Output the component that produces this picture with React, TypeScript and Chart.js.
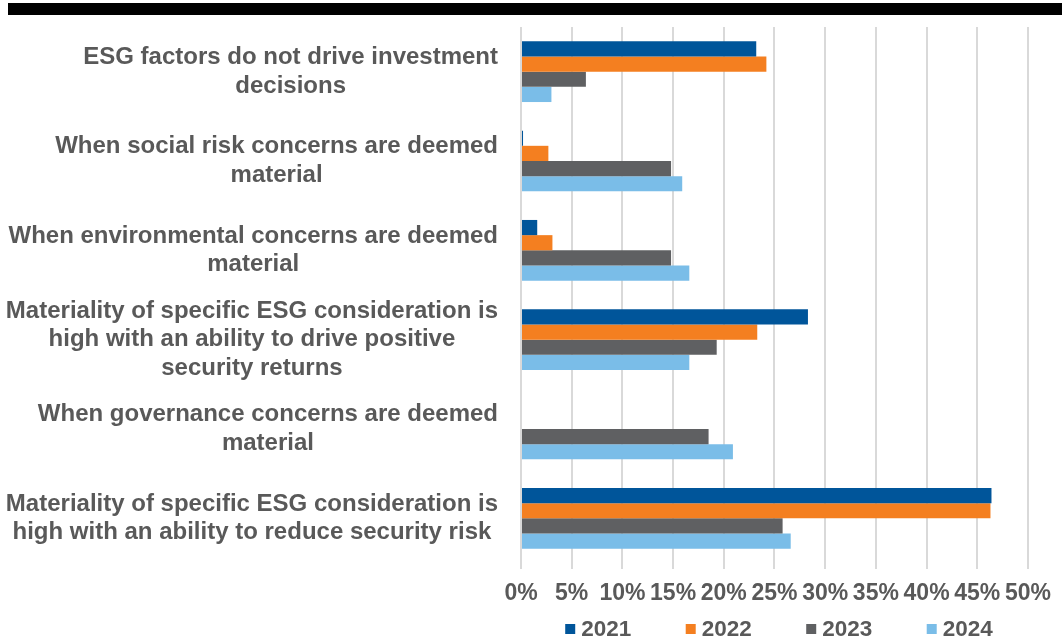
import React, { useEffect, useRef } from "react";
import { Chart, registerables } from "chart.js";

Chart.register(...registerables);

const categories: string[][] = [
  ["ESG factors do not drive investment", "decisions"],
  ["When social risk concerns are deemed", "material"],
  ["When environmental concerns are deemed", "material"],
  ["Materiality of specific ESG consideration is", "high with an ability to drive positive", "security returns"],
  ["When governance concerns are deemed", "material"],
  ["Materiality of specific ESG consideration is", "high with an ability to reduce security risk"],
];

const seriesNames = ["2021", "2022", "2023", "2024"];
const values2021: (number | null)[] = [23.2, 0.2, 1.6, 28.3, null, 46.4];
const values2022: (number | null)[] = [24.2, 2.7, 3.1, 23.3, null, 46.3];
const values2023: (number | null)[] = [6.4, 14.8, 14.8, 19.3, 18.5, 25.8];
const values2024: (number | null)[] = [3.0, 15.9, 16.6, 16.6, 20.9, 26.6];
const xTickMax = 50;
const xTickStep = 5;

const colors = ["#00559A", "#F47F20", "#5F6062", "#7ABDE8"];
const FONT = "'Liberation Sans', Arial, sans-serif";
const TEXT = "#595959";

const yLabelPlugin = {
  id: "yLabelPlugin",
  afterDraw(chart: any) {
    const ctx = chart.ctx;
    const ys = chart.scales.y;
    const labels = chart.data.labels as string[][];
    ctx.save();
    ctx.font = `bold 24px ${FONT}`;
    ctx.fillStyle = TEXT;
    ctx.textAlign = "center";
    ctx.textBaseline = "middle";
    const right = 498;
    const lh = 28.5;
    labels.forEach((lines, i) => {
      const y = ys.getPixelForTick(i);
      const maxW = Math.max(...lines.map((l) => ctx.measureText(l).width));
      const cx = right - maxW / 2;
      const y0 = y - ((lines.length - 1) * lh) / 2;
      lines.forEach((l, j) => ctx.fillText(l, cx, y0 + j * lh));
    });
    ctx.restore();
  },
};

const legendPlugin = {
  id: "customLegend",
  afterDraw(chart: any) {
    const ctx = chart.ctx;
    const area = chart.chartArea;
    const ds = chart.data.datasets;
    ctx.save();
    ctx.font = `bold 22.5px ${FONT}`;
    ctx.textBaseline = "middle";
    ctx.textAlign = "left";
    const pitch = 120.5;
    const box = 10;
    const gap = 6;
    const n = ds.length;
    const lastW = box + gap + ctx.measureText(ds[n - 1].label).width;
    const total = pitch * (n - 1) + lastW;
    const center = (area.left + area.right) / 2 + 4.5;
    let x = center - total / 2;
    const y = 629;
    ds.forEach((d: any) => {
      ctx.fillStyle = d.backgroundColor;
      ctx.fillRect(x, y - box / 2, box, box);
      ctx.fillStyle = TEXT;
      ctx.fillText(d.label, x + box + gap, y + 1);
      x += pitch;
    });
    ctx.restore();
  },
};

export default function App() {
  const ref = useRef<HTMLCanvasElement>(null);
  useEffect(() => {
    if (!ref.current) return;
    const all = [values2021, values2022, values2023, values2024];
    const chart = new Chart(ref.current, {
      type: "bar",
      data: {
        labels: categories as any,
        datasets: seriesNames.map((name, i) => ({
          label: name,
          data: all[i],
          backgroundColor: colors[i],
          borderWidth: 0,
          categoryPercentage: 0.68,
          barPercentage: 1,
        })),
      },
      options: {
        indexAxis: "y",
        animation: false,
        responsive: true,
        maintainAspectRatio: false,
        layout: { padding: { top: 27, right: 30, bottom: 33, left: 0 } },
        plugins: {
          legend: { display: false },
          tooltip: { enabled: false },
        },
        scales: {
          x: {
            min: 0,
            max: xTickMax,
            ticks: {
              stepSize: xTickStep,
              callback: (v: any) => `${v}%`,
              color: TEXT,
              font: { family: FONT, size: 23, weight: "bold" },
              padding: 11,
              maxRotation: 0,
              autoSkip: false,
            },
            grid: { color: "#d9d9d9", lineWidth: 2, tickLength: 6 },
            border: { display: false },
            afterFit: (s: any) => {
              s.height = 45;
            },
          },
          y: {
            ticks: { display: false },
            grid: { display: false },
            border: { display: false },
            afterFit: (s: any) => {
              s.width = 521;
            },
          },
        },
      },
      plugins: [yLabelPlugin, legendPlugin],
    });
    return () => chart.destroy();
  }, []);
  return (
    <div style={{ position: "absolute", left: 0, top: 0, width: 1062, height: 641, background: "#fff" }}>
      <div style={{ position: "absolute", left: 8, right: 0, top: 3, height: 12, background: "#000" }} />
      <canvas ref={ref} style={{ position: "absolute", left: 0, top: 0 }} />
    </div>
  );
}
